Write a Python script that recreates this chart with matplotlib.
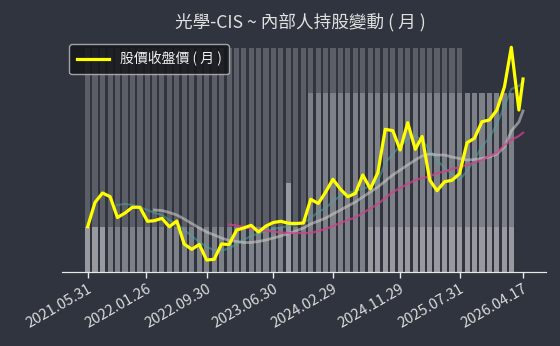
import pandas as pd
import matplotlib
matplotlib.use('Agg')
import matplotlib.pyplot as plt

plt.rcParams['font.family'] = ['Noto Sans CJK TC', 'DejaVu Sans']

# monthly dates, last point is the latest trading day
dates = list(pd.date_range('2021-05-31', periods=59, freq='ME')) + [pd.Timestamp('2026-04-17')]

# monthly close
price = [45.3, 69.5, 79, 75.3, 54.5, 59, 64.7, 64.7, 50.7, 51.3,
         53.7, 45.3, 51, 28, 22.7, 27.5, 12, 12.7, 28, 27.5,
         42, 44, 46.7, 40, 46, 49.5, 50.7, 48.7, 48.5, 49,
         72.7, 68.5, 80.3, 92.7, 82.7, 75.3, 78.7, 97, 83.2, 99.5,
         142.7, 141.3, 122, 149.3, 122.7, 135.5, 92, 81.3, 90.3, 91.7,
         98.3, 129.3, 133.7, 150.3, 152, 162, 185.3, 224.7, 162, 193]

# moving averages, starting at month index 4 / 9 / 19
ma_short = [67, 68, 67, 65, 62, 59, 57, 52, 48, 42, 36, 30, 25, 22, 21.5, 23.5,
            28, 32, 36, 38.5, 41, 43, 44.5, 46, 47.5, 49, 54, 60, 64, 71, 76, 79,
            81, 83, 86, 91, 109, 118, 126, 133, 136, 132, 122, 112, 104, 98, 92,
            101, 112, 126, 134, 148, 166, 183, 186, 190]
ma_mid = [62, 61.5, 59.5, 57, 53, 48.5, 44, 40, 37, 34, 31.5, 30.5, 29.5, 29.5,
          30.5, 32, 34, 36, 38.5, 41, 44, 48, 51, 54, 58, 62, 66, 70, 75, 80, 85,
          91, 97, 102, 107, 112, 116, 118, 117, 117, 115, 113.5, 112, 112.5, 113.5,
          115, 118, 125, 141, 150, 161]
ma_long = [47.5, 46.5, 45, 43.5, 42, 41, 40.5, 39.5, 39, 39, 39, 39, 41, 43, 46,
           49, 52, 54.5, 59, 63.5, 68, 74, 80, 84, 88, 92, 94, 95.5, 99, 100.5,
           103, 105, 107, 109.5, 112, 116, 119, 127, 132, 136, 139.3]

# insider holdings (%), 58 months
hold_1 = [98.7] * 51 + [78.9] * 7
hold_2 = [19.8] * 27 + [39.2] + [19.8] * 2 + [78.9] * 28
hold_3 = [19.8] * 3 + [0] * 24 + [39.2] + [0] * 10 + [19.8] * 20

tick_dates = ['2021-05-31', '2022-01-26', '2022-09-30', '2023-06-30',
              '2024-02-29', '2024-11-29', '2025-07-31', '2026-04-17']
tick_labels = ['2021.05.31', '2022.01.26', '2022.09.30', '2023.06.30',
               '2024.02.29', '2024.11.29', '2025.07.31', '2026.04.17']

bg = '#2f343e'
fig = plt.figure(figsize=(5.6, 3.46), dpi=100, facecolor=bg)
ax = fig.add_axes([62 / 560, 74 / 346, 484 / 560, 227 / 346], facecolor=bg)

bar_dates = dates[:58]
for h in (hold_1, hold_2, hold_3):
    ax.bar(bar_dates, h, width=21, color='white', alpha=0.21, linewidth=0, zorder=1)
ax.set_ylim(0, 100)

ax2 = ax.twinx()
ax2.plot(dates[4:], ma_short, color='#4fa3a3', alpha=0.55, lw=1.5, zorder=2)
ax2.plot(dates[9:], ma_mid, color='#c8c8c8', alpha=0.6, lw=2, zorder=3)
ax2.plot(dates[19:], ma_long, color='#d0428c', alpha=0.75, lw=1.6, zorder=4)
line, = ax2.plot(dates, price, color='#ffff00', lw=2.3, zorder=5, label='股價收盤價 ( 月 )')
ax2.set_ylim(0, 227)

ax.set_xlim(pd.Timestamp('2021-02-15'), pd.Timestamp('2026-07-20'))
ax.set_xticks([pd.Timestamp(d) for d in tick_dates])
ax.set_xticklabels(tick_labels, rotation=30, ha='right', rotation_mode='anchor',
                   fontsize=10.5, color='#dcdcdc')
ax.tick_params(axis='x', colors='#e8e8e8', length=4, width=1, pad=3)
ax.tick_params(axis='x', labelcolor='#dcdcdc')
for a in (ax, ax2):
    a.set_yticks([])
    for s in ('top', 'left', 'right'):
        a.spines[s].set_visible(False)
    a.spines['bottom'].set_color('#e8e8e8')

fig.text(300 / 560, 1 - 22 / 346, '光學-CIS ~ 內部人持股變動 ( 月 )', ha='center', va='center',
         fontsize=12.7, color='#e0e0e0')

leg = ax2.legend(handles=[line], loc='upper left', bbox_to_anchor=(69 / 560, 1 - 44 / 346),
                 bbox_transform=fig.transFigure, borderaxespad=0, fontsize=10,
                 handlelength=2.3, handletextpad=0.8, borderpad=0.55,
                 facecolor='#15171b', framealpha=0.85,
                 edgecolor='#b8b8b8', labelcolor='#f0f0f0')
leg.get_frame().set_linewidth(1)

fig.savefig('out.png', dpi=100, facecolor=bg)
